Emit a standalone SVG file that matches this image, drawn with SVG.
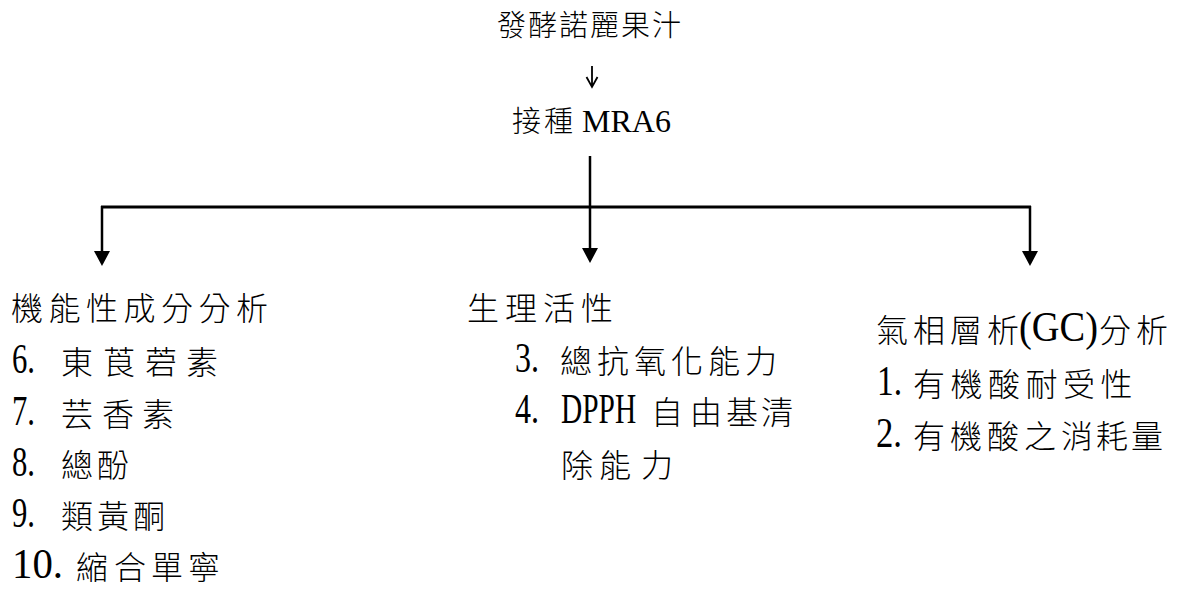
<svg xmlns="http://www.w3.org/2000/svg" width="1178" height="592" viewBox="0 0 1178 592">
<style>
  .cjk { font-family: "Noto Sans CJK TC", "Noto Sans CJK SC", sans-serif; font-size: 32px; font-weight: 300; fill: #000; }
  .cjk-s { font-family: "Noto Sans CJK TC", "Noto Sans CJK SC", sans-serif; font-size: 29px; font-weight: 300; fill: #000; }
  .num { font-family: "Liberation Serif", "Times New Roman", serif; font-size: 42px; fill: #000; }
  .lat { font-family: "Liberation Serif", "Times New Roman", serif; font-size: 32px; fill: #000; }
  .ln { stroke: #000; fill: none; stroke-linecap: butt; }
  .head { fill: #000; stroke: none; }
</style>
<rect width="1178" height="592" fill="#fff"/>

<g id="node-juice">
  <text class="cjk-s" x="497 528 559 590 621 652" y="36">發酵諾麗果汁</text>
</g>

<g id="node-inoculate">
  <text class="cjk-s" x="512 544" y="132">接種</text>
  <text class="lat" x="582" y="132">MRA6</text>
</g>

<g id="connectors">
  <path class="ln" stroke-width="1.8" d="M592 66 V87 M586.5 77 L592 87 L597.5 77"/>
  <path class="ln" stroke-width="2.5" d="M590 156 V207"/>
  <path class="ln" stroke-width="3" d="M101 207 H1031"/>
  <path class="ln" stroke-width="2.5" d="M102 206 V252"/>
  <polygon class="head" points="94,251 110,251 102,266"/>
  <path class="ln" stroke-width="2.5" d="M590 207 V249"/>
  <polygon class="head" points="582,248 598,248 590,263"/>
  <path class="ln" stroke-width="2.5" d="M1030 206 V252"/>
  <polygon class="head" points="1022,251 1038,251 1030,266"/>
</g>

<g id="node-functional">
  <text class="cjk" x="11 48.5 86 123.5 161 198.5 236" y="320">機能性成分分析</text>
  <text class="num" x="12" y="373" textLength="23" lengthAdjust="spacingAndGlyphs">6.</text>
  <text class="cjk" x="61 103 145 186" y="374">東莨菪素</text>
  <text class="num" x="12" y="425" textLength="23" lengthAdjust="spacingAndGlyphs">7.</text>
  <text class="cjk" x="61 102 142" y="426">芸香素</text>
  <text class="num" x="12" y="476" textLength="23" lengthAdjust="spacingAndGlyphs">8.</text>
  <text class="cjk" x="61 97" y="477">總酚</text>
  <text class="num" x="12" y="527" textLength="23" lengthAdjust="spacingAndGlyphs">9.</text>
  <text class="cjk" x="61 97 133" y="528">類黃酮</text>
  <text class="num" x="12" y="578" textLength="51" lengthAdjust="spacingAndGlyphs">10.</text>
  <text class="cjk" x="76 114 151 188" y="579">縮合單寧</text>
</g>

<g id="node-bioactivity">
  <text class="cjk" x="467 505 543 581" y="320">生理活性</text>
  <text class="num" x="515" y="372" textLength="24" lengthAdjust="spacingAndGlyphs">3.</text>
  <text class="cjk" x="560 597 634 671 708 745" y="373">總抗氧化能力</text>
  <text class="num" x="515" y="423" textLength="24" lengthAdjust="spacingAndGlyphs">4.</text>
  <text class="num" transform="translate(561,423) scale(0.7,1)">DPPH</text>
  <text class="cjk" x="651 690 726 761" y="424">自由基清</text>
  <text class="cjk" x="561 599 641" y="477">除能力</text>
</g>

<g id="node-gc">
  <text class="cjk" x="876 913 950 987" y="342">氣相層析</text>
  <text class="num" x="1019" y="341" textLength="79" lengthAdjust="spacingAndGlyphs">(GC)</text>
  <text class="cjk" x="1099 1136" y="342">分析</text>
  <text class="num" x="877" y="395" textLength="25" lengthAdjust="spacingAndGlyphs">1.</text>
  <text class="cjk" x="913 950.5 988 1025.5 1063 1100.5" y="396">有機酸耐受性</text>
  <text class="num" x="876" y="447" textLength="26" lengthAdjust="spacingAndGlyphs">2.</text>
  <text class="cjk" x="913 950 987 1024 1061 1096 1131" y="448">有機酸之消耗量</text>
</g>
</svg>
